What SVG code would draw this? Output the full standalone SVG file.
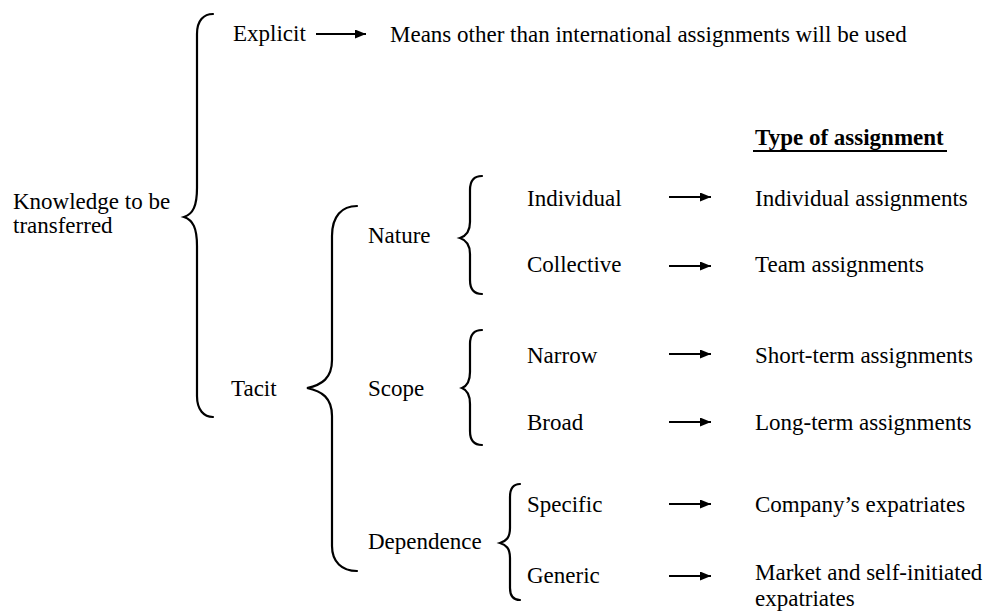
<svg xmlns="http://www.w3.org/2000/svg" width="987" height="614" viewBox="0 0 987 614">
  <style>
    .t text { font-size: 23px; fill: #000; }
    .bold { font-weight: bold; }
    .brace { fill: none; stroke: #000; stroke-width: 2.2; stroke-linecap: round; }
    .arrow { fill: none; stroke: #000; stroke-width: 2; marker-end: url(#head); }
  </style>
  <defs>
    <marker id="head" markerUnits="userSpaceOnUse" markerWidth="11" markerHeight="9" refX="11" refY="4.5" orient="auto">
      <path d="M0,0 L11,4.5 L0,9 Z" fill="#000"/>
    </marker>
  </defs>
  <rect width="987" height="614" fill="#fff"/>

  <g id="connectors">
    <path class="brace" d="M213,14 C204,14 197,20 197,34 L197,188 C197,206 193,214 184,217 C193,220 197,228 197,246 L197,396 C197,410 204,417 213,417"/>
    <path class="brace" d="M357,206 C342,206 332,216 332,236 L332,360 C332,378 322,385 307,388 C322,391 332,398 332,416 L332,546 C332,562 342,571 357,571"/>
    <path class="brace" d="M482,176 C474,176 470,181 470,190 L470,222 C470,232 466,236 460,238 C466,240 470,244 470,254 L470,280 C470,289 474,294 482,294"/>
    <path class="brace" d="M482,330 C474,330 470,335 470,344 L470,372 C470,382 467,386 462,388 C467,390 470,394 470,404 L470,431 C470,440 474,445 482,445"/>
    <path class="brace" d="M520,484 C513,484 510,489 510,497 L510,528 C510,538 506,541 500,543 C506,545 510,548 510,558 L510,588 C510,596 513,600 520,600"/>
    <line class="arrow" x1="316" y1="34" x2="366" y2="34"/>
    <line class="arrow" x1="669" y1="197" x2="711" y2="197"/>
    <line class="arrow" x1="669" y1="266" x2="711" y2="266"/>
    <line class="arrow" x1="669" y1="354" x2="711" y2="354"/>
    <line class="arrow" x1="669" y1="422" x2="711" y2="422"/>
    <line class="arrow" x1="669" y1="504" x2="711" y2="504"/>
    <line class="arrow" x1="669" y1="576" x2="711" y2="576"/>
  </g>

  <g class="t" font-family="'Liberation Serif', Tinos, 'Times New Roman', serif">
  <g id="knowledge"><text x="13" y="209">Knowledge to be</text><text x="13" y="233">transferred</text></g>
  <g id="explicit"><text x="233" y="41">Explicit</text></g>
  <g id="means"><text x="390" y="42">Means other than international assignments will be used</text></g>
  <g id="tacit"><text x="231" y="396">Tacit</text></g>
  <g id="nature"><text x="368" y="243">Nature</text></g>
  <g id="scope"><text x="368" y="396">Scope</text></g>
  <g id="dependence"><text x="368" y="549">Dependence</text></g>
  <g id="individual"><text x="527" y="206">Individual</text></g>
  <g id="collective"><text x="527" y="272">Collective</text></g>
  <g id="narrow"><text x="527" y="363">Narrow</text></g>
  <g id="broad"><text x="527" y="430">Broad</text></g>
  <g id="specific"><text x="527" y="512">Specific</text></g>
  <g id="generic"><text x="527" y="583">Generic</text></g>
  <g id="type-header"><text class="bold" x="755" y="145">Type of assignment</text><line x1="753" y1="151" x2="947" y2="151" stroke="#000" stroke-width="1.8"/></g>
  <g id="individual-assignments"><text x="755" y="206">Individual assignments</text></g>
  <g id="team-assignments"><text x="755" y="272">Team assignments</text></g>
  <g id="short-term"><text x="755" y="363">Short-term assignments</text></g>
  <g id="long-term"><text x="755" y="430">Long-term assignments</text></g>
  <g id="company-expatriates"><text x="755" y="512">Company’s expatriates</text></g>
  <g id="market-expatriates"><text x="755" y="580">Market and self-initiated</text><text x="755" y="606">expatriates</text></g>
  </g>
</svg>
